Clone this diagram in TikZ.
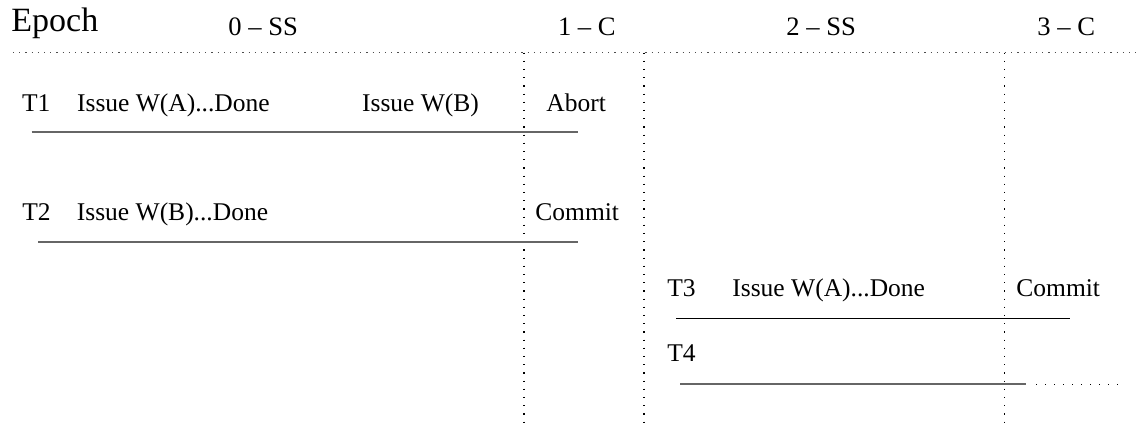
\documentclass[tikz,border=0pt]{standalone}
\usepackage{fontspec}
\setmainfont{Liberation Serif}
\usetikzlibrary{positioning}

\begin{document}
\begin{tikzpicture}[x=0.5pt,y=-0.5pt,
  txt/.style={anchor=base west,inner sep=0pt,font=\fontsize{12.75}{15}\selectfont},
  hd/.style={anchor=base west,inner sep=0pt,font=\fontsize{13.3}{16}\selectfont},
  tline/.style={draw=black!60,line width=1pt},
  vsep/.style={line width=0.7pt,dash pattern=on 0.6pt off 3.5pt},
  hsep/.style={draw=black!70,line width=0.6pt,dash pattern=on 0.6pt off 2.5pt}]
  \useasboundingbox (0,0) rectangle (1138,430);

  % epochs
  \node[hd,font=\fontsize{17}{20}\selectfont] (epoch) at (11,31.7) {Epoch};
  \node[hd] (e0) at (228,35) {0 – SS};
  \node[hd] (e1) at (557.6,35) {1 – C};
  \node[hd] (e2) at (786,35) {2 – SS};
  \node[hd] (e3) at (1037,35.5) {3 – C};

  \coordinate (hl) at (13,52.5);
  \coordinate (hr) at (1138,52.5);
  \draw[hsep] (hl) -- (hr);

  \coordinate (v1t) at (524,52.5);    \coordinate (v1b) at (524,426);
  \coordinate (v2t) at (644,52.5);    \coordinate (v2b) at (644,426);
  \coordinate (v3t) at (1004.5,52.5); \coordinate (v3b) at (1004.5,426);
  \draw[vsep] (v1t) -- (v1b);
  \draw[vsep] (v2t) -- (v2b);
  \draw[vsep] (v3t) -- (v3b);

  % transactions
  \node[txt] (t1) at (21.7,111.7) {T1};
  \node[txt] (t1a) at (76.7,111.7) {Issue W(A)...Done};
  \node[txt] (t1b) at (361.7,111.7) {Issue W(B)};
  \node[txt] (t1c) at (546,111.7) {Abort};

  \node[txt] (t2) at (22,220) {T2};
  \node[txt] (t2a) at (76.5,220) {Issue W(B)...Done};
  \node[txt] (t2c) at (535,220) {Commit};

  \node[txt] (t3) at (667,296.7) {T3};
  \node[txt] (t3a) at (732,296.7) {Issue W(A)...Done};
  \node[txt] (t3c) at (1016,296.7) {Commit};

  \node[txt] (t4) at (667,361.7) {T4};

  \coordinate (l1s) at (31.7,132.3); \coordinate (l1e) at (578,132.3);
  \coordinate (l2s) at (38.3,241.7); \coordinate (l2e) at (578,241.7);
  \coordinate (l3s) at (676,318.5);  \coordinate (l3e) at (1070,318.5);
  \coordinate (l4s) at (680,384.3);  \coordinate (l4e) at (1026,384.3);
  \coordinate (l4d) at (1036,384.3); \coordinate (l4f) at (1118,384.3);
  \draw[tline] (l1s) -- (l1e);
  \draw[tline] (l2s) -- (l2e);
  \draw[line width=0.6pt] (l3s) -- (l3e);
  \draw[tline] (l4s) -- (l4e);
  \draw[line width=0.6pt,dash pattern=on 0.6pt off 3.9pt] (l4d) -- (l4f);
\end{tikzpicture}
\end{document}
